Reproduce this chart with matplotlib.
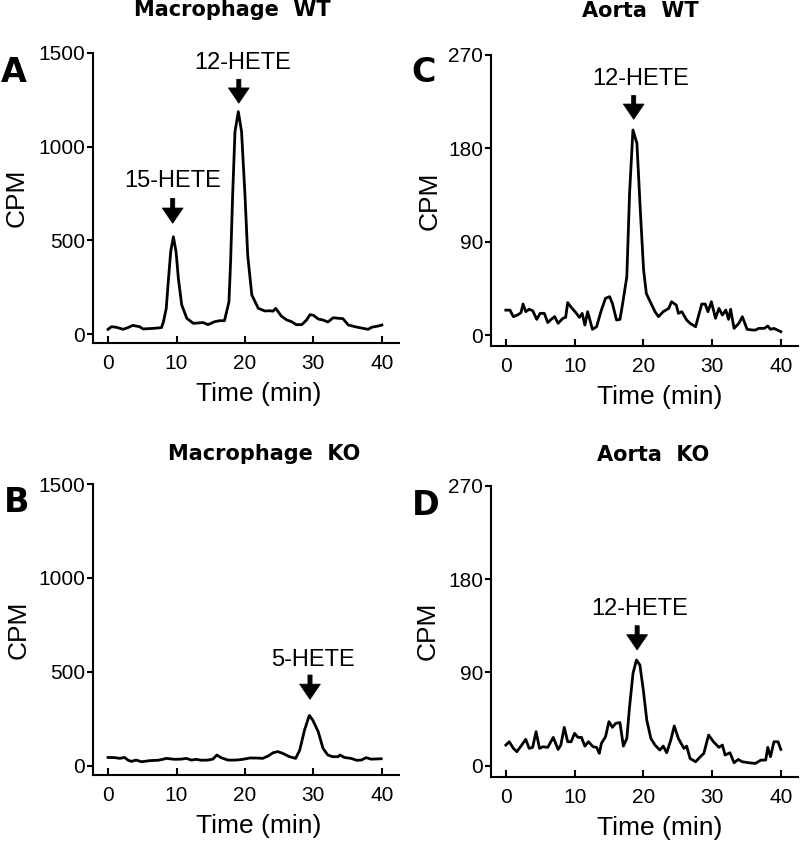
import matplotlib
matplotlib.use("Agg")
import matplotlib.pyplot as plt

plt.rcParams['font.family'] = ['Liberation Sans', 'DejaVu Sans']

# Macrophage WT (A)
time_a = [0, 0.5, 1.2, 2.2, 2.9, 3.6, 4.6, 5.1, 6.6, 7.8, 8.1, 8.5, 8.8, 9.15, 9.54, 9.93,
          10.27, 10.76, 11.5, 12.45, 13.9, 14.6, 15.6, 16.3, 17.0, 17.2, 17.66, 17.9, 18.2,
          18.54, 19.03, 19.5, 20.0, 20.4, 21.0, 21.95, 22.9, 23.6, 24.1, 24.5, 25.3, 26.1,
          26.8, 27.5, 28.3, 29.0, 29.5, 30.0, 30.7, 31.4, 32.1, 32.9, 33.6, 34.3, 35.1, 36.3,
          37.3, 38.0, 38.5, 39.5, 40.0]
cpm_a = [25, 39, 36, 25, 34, 46, 39, 27, 30, 34, 66, 137, 281, 440, 519, 440, 297, 155, 84,
         57, 61, 50, 66, 71, 71, 101, 172, 386, 742, 1080, 1187, 1080, 742, 420, 208, 137,
         123, 124, 122, 137, 96, 75, 66, 50, 50, 75, 103, 100, 80, 75, 64, 87, 84, 82, 48,
         37, 30, 25, 36, 43, 48]

# Macrophage KO (B)
time_b = [0, 1.0, 1.7, 2.4, 2.9, 3.4, 4.1, 4.9, 6.1, 7.3, 8.0, 8.5, 9.7, 10.7, 11.4, 12.2,
          12.9, 13.6, 14.6, 15.3, 15.9, 16.5, 17.5, 18.7, 19.7, 20.7, 21.7, 22.6, 23.4, 24.1,
          24.8, 25.5, 26.5, 27.4, 28.0, 28.7, 29.4, 29.9, 30.7, 31.4, 32.1, 32.8, 33.6, 33.9,
          34.5, 35.5, 36.3, 37.0, 37.7, 38.4, 39.9]
cpm_b = [44, 43, 39, 44, 30, 23, 30, 21, 27, 29, 34, 39, 34, 35, 39, 30, 34, 29, 30, 35, 57,
         43, 30, 30, 34, 41, 41, 39, 52, 69, 75, 66, 48, 39, 83, 190, 268, 243, 181, 92, 57,
         48, 48, 57, 44, 39, 29, 30, 43, 35, 37]

# Aorta WT (C)
time_c = [0, 0.6, 1.1, 1.7, 2.2, 2.5, 2.9, 3.4, 3.9, 4.5, 5.0, 5.6, 6.1, 6.6, 7.1, 7.6, 8.3,
          8.7, 9.0, 9.5, 10.2, 10.7, 11.1, 11.5, 11.9, 12.6, 13.2, 13.9, 14.5, 15.1, 15.5,
          16.1, 16.6, 17.0, 17.6, 18.0, 18.49, 19.07, 19.56, 20.04, 20.44, 21.0, 21.7, 22.2,
          22.9, 23.7, 24.1, 24.8, 25.1, 25.6, 26.3, 26.8, 27.6, 28.0, 28.5, 29.0, 29.4, 29.9,
          30.5, 31.0, 31.5, 32.0, 32.4, 32.7, 33.2, 33.9, 34.4, 35.1, 35.9, 36.3, 36.8, 37.6,
          38.1, 38.5, 39.0, 40.0]
cpm_c = [24, 24, 17.7, 19.3, 21.5, 29.9, 22.5, 24.8, 23.5, 15.1, 20.9, 20.9, 12.0, 15.1,
         17.7, 11.3, 16.1, 17.0, 31.3, 26.7, 21.5, 17.0, 20.9, 9.6, 22.5, 5.5, 8.0, 24, 35.4,
         37, 30.5, 14.5, 15.1, 30.6, 56.2, 136.6, 197.7, 184.9, 120.5, 62.7, 40, 32.1, 22.5,
         17.7, 22.5, 25.7, 32.1, 28.9, 20.9, 22.5, 14.5, 11.3, 8.0, 17.7, 29.9, 29.9, 22.5,
         32.1, 16.1, 25.7, 19.3, 24.1, 15.1, 24.8, 6.4, 11.3, 17.7, 5.5, 4.8, 4.8, 6.4, 6.4,
         8.7, 5.5, 6.4, 3.2]

# Aorta KO (D)
time_d = [0, 0.5, 1.1, 1.6, 2.2, 2.9, 3.4, 3.9, 4.4, 4.9, 5.4, 6.1, 6.9, 7.6, 8.0, 8.5, 9.0,
          9.5, 10.0, 10.5, 11.0, 11.5, 12.0, 12.7, 13.2, 13.6, 13.9, 14.5, 15.0, 15.5, 16.0,
          16.6, 17.1, 17.6, 18.0, 18.5, 19.0, 19.5, 20.0, 20.5, 21.1, 21.7, 22.4, 22.9, 23.4,
          24.0, 24.5, 25.1, 25.9, 26.3, 26.8, 27.6, 28.3, 28.8, 29.5, 30.2, 31.0, 31.5, 31.9,
          32.6, 33.2, 33.8, 34.4, 35.4, 36.3, 37.1, 37.8, 38.1, 38.5, 39.0, 39.6, 40.0]
cpm_d = [19.9, 23.1, 16.7, 13.5, 18.9, 25.4, 16.7, 17.7, 32.8, 16.7, 18.3, 17.7, 27.3, 15.7,
         19.9, 37.0, 23.1, 23.1, 31.2, 27.3, 27.3, 18.9, 23.1, 18.3, 17.7, 11.9, 21.5, 27.9,
         42.5, 37.0, 40.9, 41.6, 18.9, 26.3, 56.9, 89.0, 101.9, 97.1, 73.0, 44.1, 26.3, 19.9,
         15.1, 18.9, 12.5, 24.8, 38.3, 26.3, 16.7, 18.9, 7.0, 3.8, 8.7, 11.9, 29.6, 23.1,
         17.7, 19.9, 10.3, 12.5, 2.8, 6.0, 3.8, 2.8, 2.2, 5.4, 5.4, 17.7, 8.7, 23.1, 23.1, 15.7]

x_ticks = [0, 10, 20, 30, 40]
mac_ticks = [0, 500, 1000, 1500]
aorta_ticks = [0, 90, 180, 270]

# peak labels: (text, text x, text y, arrow x, arrow tail y, arrow tip y)
peaks_a = [("15-HETE", 9.42, 783, 9.44, 724, 591),
           ("12-HETE", 19.6, 1415, 19.1, 1360, 1232)]
peaks_b = [("5-HETE", 30.0, 531, 29.5, 483, 353)]
peaks_c = [("12-HETE", 19.65, 241, 18.6, 231, 208)]
peaks_d = [("12-HETE", 19.5, 145, 19.1, 135, 111.6)]

W, H = 801, 843
fig = plt.figure(figsize=(W / 100, H / 100), dpi=100)


def px_rect(left, top, right, bottom):
    return [left / W, 1 - bottom / H, (right - left) / W, (bottom - top) / H]


def panel(rect, t, y, yticks, ylim, peaks, ylab_x, xlab_x):
    ax = fig.add_axes(rect)
    ax.plot(t, y, color="black", lw=2.0)
    ax.set_xlim(-2.2, 42.5)
    ax.set_ylim(*ylim)
    ax.set_xticks(x_ticks)
    ax.set_yticks(yticks)
    for s in ["top", "right"]:
        ax.spines[s].set_visible(False)
    for s in ["left", "bottom"]:
        ax.spines[s].set_linewidth(1.5)
    ax.tick_params(axis="x", direction="in", length=5, width=1.5, pad=8, labelsize=15)
    ax.tick_params(axis="y", direction="out", length=4, width=1.5, pad=1.5, labelsize=15)
    ax.set_xlabel("Time (min)", fontsize=19)
    ax.set_ylabel("CPM", fontsize=19)
    ax.xaxis.set_label_coords(xlab_x, -0.135)
    ax.yaxis.set_label_coords(ylab_x, 0.5)
    for name, tx, ty, axx, tail, tip in peaks:
        ax.text(tx, ty, name, ha="center", va="baseline", fontsize=17)
        ax.annotate("", xy=(axx, tip), xytext=(axx, tail),
                    arrowprops=dict(facecolor="black", edgecolor="black", lw=0.5,
                                    width=3.0, headwidth=15, headlength=11, shrink=0))
    return ax


panel(px_rect(93, 53, 399, 343), time_a, cpm_a, mac_ticks, (-48, 1500), peaks_a, -0.21, 0.542)
panel(px_rect(490.7, 55, 798, 345.7), time_c, cpm_c, aorta_ticks, (-10.3, 270), peaks_c, -0.16, 0.551)
panel(px_rect(93, 484, 399, 775), time_b, cpm_b, mac_ticks, (-49.5, 1500), peaks_b, -0.205, 0.542)
panel(px_rect(490.7, 485.7, 798, 776.7), time_d, cpm_d, aorta_ticks, (-10.6, 270), peaks_d, -0.165, 0.551)

bold = dict(ha="center", va="baseline", fontsize=15, fontweight="bold", family="DejaVu Sans")
fig.text(232.5 / W, 1 - 16.5 / H, "Macrophage  WT", **bold)
fig.text(640.5 / W, 1 - 17 / H, "Aorta  WT", **bold)
fig.text(264 / W, 1 - 460.5 / H, "Macrophage  KO", **bold)
fig.text(653 / W, 1 - 461.5 / H, "Aorta  KO", **bold)

letter = dict(ha="left", va="baseline", fontsize=24, fontweight="bold", family="DejaVu Sans")
fig.text(1 / W, 1 - 81.7 / H, "A", **letter)
fig.text(411 / W, 1 - 82 / H, "C", **letter)
fig.text(4 / W, 1 - 512 / H, "B", **letter)
fig.text(412 / W, 1 - 515 / H, "D", **letter)

fig.savefig("out.png", dpi=100)
